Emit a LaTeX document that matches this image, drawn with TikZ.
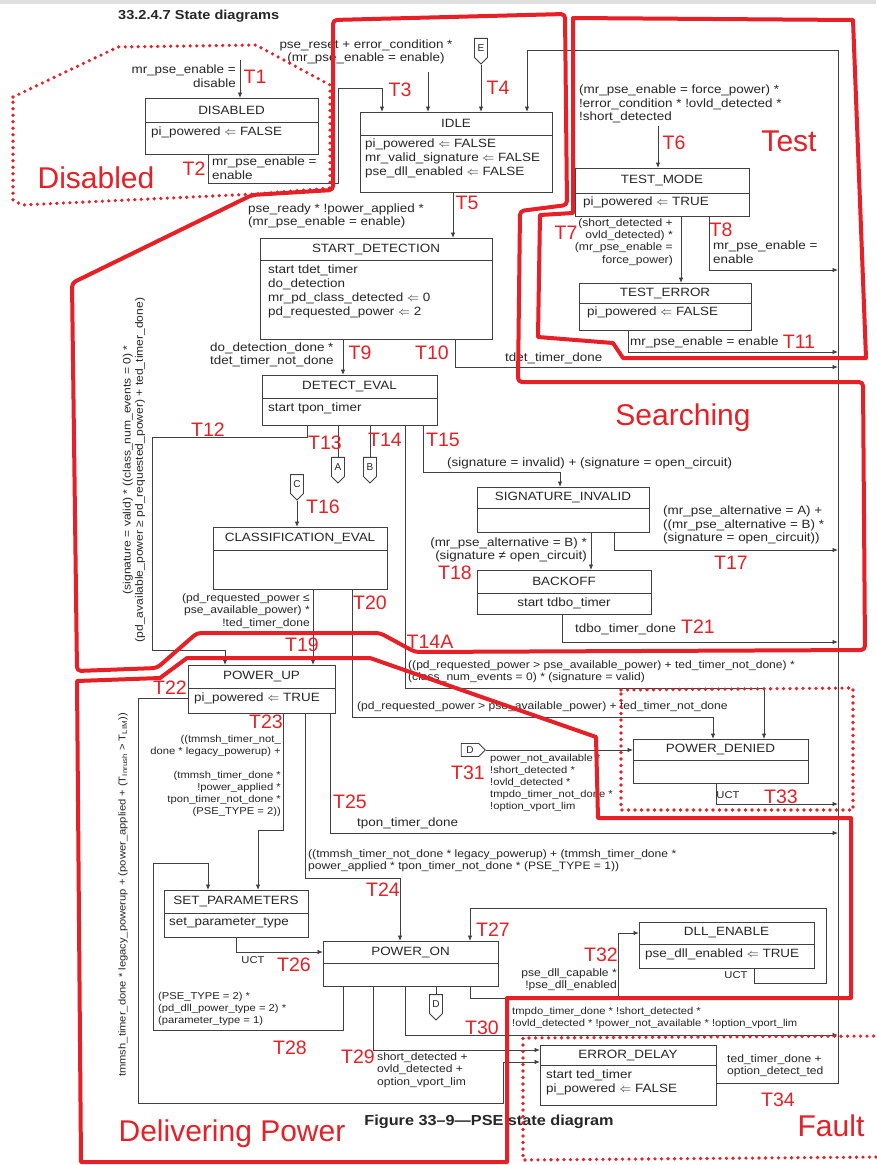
\documentclass[tikz,border=0pt]{standalone}
\usepackage{fontspec}
\usepackage{amsmath}
\usepackage{amssymb}
\usetikzlibrary{arrows, arrows.meta}
\usetikzlibrary{calc}
\usetikzlibrary{shapes.symbols}
\newfontfamily\dg{Liberation Sans}[FakeStretch=1.12]
\newfontfamily\rg{Liberation Sans}
\definecolor{ln}{gray}{0.25}
\definecolor{txt}{gray}{0.15}
\definecolor{regred}{RGB}{230,32,38}
\newcommand{\lassign}{\ensuremath{\Leftarrow}}

\begin{document}
\begin{tikzpicture}[x=1pt, y=-1pt,
    state/.style={draw=ln, line width=1pt, anchor=north west, inner sep=0pt},
    div/.style={draw=ln, line width=1pt},
    wire/.style={draw=ln, line width=0.9pt},
    tr/.style={draw=ln, line width=0.9pt, -{Latex[length=5.5pt,width=4.5pt]}},
    lbl/.style={inner sep=0pt, text=txt, font={\dg\fontsize{12}{13.5}\selectfont}},
    lbls/.style={inner sep=0pt, text=txt, font={\dg\fontsize{10.8}{12.2}\selectfont}},
    lblx/.style={inner sep=0pt, text=txt, font={\dg\fontsize{10}{12}\selectfont}},
    body/.style={inner sep=0pt, text=txt, anchor=north west, align=left, font={\dg\fontsize{12}{14}\selectfont}},
    conn/.style={draw=ln, line width=0.9pt, signal, fill=white, inner sep=1.5pt, minimum width=13pt, minimum height=24pt, text=txt, font={\rg\fontsize{10}{10}\selectfont}},
    tname/.style={inner sep=0pt, text=regred, font={\rg\fontsize{19.5}{20}\selectfont}},
    region/.style={draw=regred, line width=4pt, line join=round},
    regdot/.style={draw=regred, line width=3.6pt, line cap=round, dash pattern=on 0pt off 6.5pt},
    regname/.style={inner sep=0pt, text=regred, font={\rg\fontsize{30}{32}\selectfont}}
  ]
    \useasboundingbox (0,0) rectangle (876,1165);
    \fill[white] (0,0) rectangle (876,1165);
    \fill[black!12] (0,0) rectangle (876,4);

    \node[anchor=west, inner sep=0pt, text=txt, font={\dg\bfseries\fontsize{13}{14}\selectfont}] (title) at (118,16) {33.2.4.7 State diagrams};
    \node[inner sep=0pt, text=txt, font={\dg\bfseries\fontsize{14.5}{16}\selectfont}] (caption) at (489,1122) {Figure 33–9—PSE state diagram};

    \node[state, minimum width=173pt, minimum height=56pt] (disabled) at (145,98) {};
    \draw[div] (disabled.west |- 0,122) -- (disabled.east |- 0,122);
    \node[lbl] (disabled-h) at (231.5,110) {DISABLED};
    \node[body] (disabled-b) at (151,127) {pi\_powered \lassign{} FALSE};

    \node[state, minimum width=192pt, minimum height=80pt] (idle) at (360,112) {};
    \draw[div] (idle.west |- 0,135) -- (idle.east |- 0,135);
    \node[lbl] (idle-h) at (456,123.5) {IDLE};
    \node[body] (idle-b) at (365,139) {pi\_powered \lassign{} FALSE\\mr\_valid\_signature \lassign{} FALSE\\pse\_dll\_enabled \lassign{} FALSE};

    \node[state, minimum width=232pt, minimum height=101pt] (startdet) at (260,238) {};
    \draw[div] (startdet.west |- 0,260) -- (startdet.east |- 0,260);
    \node[lbl] (startdet-h) at (376,249) {START\_DETECTION};
    \node[body] (startdet-b) at (268,265) {start tdet\_timer\\do\_detection\\mr\_pd\_class\_detected \lassign{} 0\\pd\_requested\_power \lassign{} 2};

    \node[state, minimum width=175pt, minimum height=50pt] (detecteval) at (262,375) {};
    \draw[div] (detecteval.west |- 0,398) -- (detecteval.east |- 0,398);
    \node[lbl] (detecteval-h) at (349.5,386.5) {DETECT\_EVAL};
    \node[body] (detecteval-b) at (268,403) {start tpon\_timer};

    \node[state, minimum width=174pt, minimum height=48pt] (testmode) at (575,168) {};
    \draw[div] (testmode.west |- 0,193) -- (testmode.east |- 0,193);
    \node[lbl] (testmode-h) at (662,180.5) {TEST\_MODE};
    \node[body] (testmode-b) at (583,197) {pi\_powered \lassign{} TRUE};

    \node[state, minimum width=172pt, minimum height=47pt] (testerror) at (579,283) {};
    \draw[div] (testerror.west |- 0,303) -- (testerror.east |- 0,303);
    \node[lbl] (testerror-h) at (665,293) {TEST\_ERROR};
    \node[body] (testerror-b) at (587,307) {pi\_powered \lassign{} FALSE};

    \node[state, minimum width=172pt, minimum height=45pt] (siginv) at (477,487) {};
    \draw[div] (siginv.west |- 0,508) -- (siginv.east |- 0,508);
    \node[lbl] (siginv-h) at (563,497.5) {SIGNATURE\_INVALID};

    \node[state, minimum width=174pt, minimum height=62pt] (classeval) at (213,527) {};
    \draw[div] (classeval.west |- 0,550) -- (classeval.east |- 0,550);
    \node[lbl] (classeval-h) at (300,538.5) {CLASSIFICATION\_EVAL};

    \node[state, minimum width=174pt, minimum height=44pt] (backoff) at (477,570) {};
    \draw[div] (backoff.west |- 0,593) -- (backoff.east |- 0,593);
    \node[lbl] (backoff-h) at (564,581.5) {BACKOFF};
    \node[lbl] (backoff-b) at (564,603) {start tdbo\_timer};

    \node[state, minimum width=147pt, minimum height=48pt] (powerup) at (188,665) {};
    \draw[div] (powerup.west |- 0,688) -- (powerup.east |- 0,688);
    \node[lbl] (powerup-h) at (261.5,676.5) {POWER\_UP};
    \node[body] (powerup-b) at (194,693) {pi\_powered \lassign{} TRUE};

    \node[state, minimum width=175pt, minimum height=44pt] (powerdenied) at (633,739) {};
    \draw[div] (powerdenied.west |- 0,760) -- (powerdenied.east |- 0,760);
    \node[lbl] (powerdenied-h) at (720.5,749.5) {POWER\_DENIED};

    \node[state, minimum width=144pt, minimum height=47pt] (setparams) at (164,890) {};
    \draw[div] (setparams.west |- 0,913) -- (setparams.east |- 0,913);
    \node[lbl] (setparams-h) at (236,901.5) {SET\_PARAMETERS};
    \node[body] (setparams-b) at (169,918) {set\_parameter\_type};

    \node[state, minimum width=175pt, minimum height=45pt] (poweron) at (323,941) {};
    \draw[div] (poweron.west |- 0,963) -- (poweron.east |- 0,963);
    \node[lbl] (poweron-h) at (410.5,952) {POWER\_ON};

    \node[state, minimum width=175pt, minimum height=46pt] (dllenable) at (639,922) {};
    \draw[div] (dllenable.west |- 0,944) -- (dllenable.east |- 0,944);
    \node[lbl] (dllenable-h) at (726.5,933) {DLL\_ENABLE};
    \node[body] (dllenable-b) at (645,949) {pse\_dll\_enabled \lassign{} TRUE};

    \node[state, minimum width=176pt, minimum height=60pt] (errdelay) at (540,1045) {};
    \draw[div] (errdelay.west |- 0,1065) -- (errdelay.east |- 0,1065);
    \node[lbl] (errdelay-h) at (628,1055) {ERROR\_DELAY};
    \node[body] (errdelay-b) at (546,1070) {start ted\_timer\\pi\_powered \lassign{} FALSE};

    \node[conn, signal to=south] (conE) at (481,48) {E};
    \node[conn, signal to=south] (conA) at (338,467) {A};
    \node[conn, signal to=south] (conB) at (370,467) {B};
    \node[conn, signal to=south] (conC) at (297,484) {C};
    \node[conn, signal to=south] (conD) at (436,1004) {D};
    \node[conn, signal to=east, minimum width=24pt, minimum height=13pt] (conD2) at (470,750) {D};

    \coordinate (bus) at (838,50);
    \coordinate (t1s) at (240,60);
    \coordinate (rsts) at (428,72);
    \coordinate (t6s) at (658,126);

    \draw[tr] (t1s) -- (disabled.north -| t1s);
    \draw[tr] (disabled.south -| 208,0) |- (338,183) -- (338,88) -| (idle.north -| 382,0);
    \draw[tr] (rsts) -- (idle.north -| rsts);
    \draw[tr] (conE.south) -- (idle.north -| conE.south);
    \draw[tr] (errdelay.east |- 0,1083) -| (bus) -| (idle.north -| 527,0);
    \draw[tr] (idle.south -| 453,0) -- (startdet.north -| 453,0);
    \draw[tr] (t6s) -- (testmode.north -| t6s);
    \draw[tr] (testmode.south -| 681,0) -- (testerror.north -| 681,0);
    \draw[tr] (testmode.south -| 709,0) |- (bus |- 0,270);
    \draw[tr] (testerror.south -| 628,0) |- (bus |- 0,352);
    \draw[tr] (startdet.south -| 343,0) -- (detecteval.north -| 343,0);
    \draw[tr] (startdet.south -| 455,0) |- (bus |- 0,367);
    \draw[tr] (detecteval.south -| 307,0) |- (152,437) |- (225,650) -- (powerup.north -| 225,0);
    \draw[wire] (detecteval.south -| conA) -- (conA.north);
    \draw[wire] (detecteval.south -| conB) -- (conB.north);
    \draw[tr] (conC.south) -- (classeval.north -| conC.south);
    \draw[tr] (detecteval.south -| 405,0) |- (764,688) -- (powerdenied.north -| 764,0);
    \draw[tr] (detecteval.south -| 423,0) |- (560,472) -- (siginv.north -| 560,0);
    \draw[tr] (siginv.south -| 614,0) |- (bus |- 0,550);
    \draw[tr] (siginv.south -| 591,0) -- (backoff.north -| 591,0);
    \draw[tr] (backoff.south -| 562,0) |- (bus |- 0,642);
    \draw[tr] (classeval.south -| 313,0) -- (powerup.north -| 313,0);
    \draw[tr] (classeval.south -| 352,0) |- (713,717) -- (powerdenied.north -| 713,0);
    \draw[tr] (conD2.east) -- (powerdenied.west |- conD2.east);
    \draw[tr] (powerdenied.south -| 716,0) |- (bus |- 0,804);
    \draw[tr] (powerup.west |- 0,698) -- (138,698) |- (503,1103) |- (errdelay.west |- 0,1062);
    \draw[tr] (powerup.south -| 283,0) |- (258,830) -- (setparams.north -| 258,0);
    \draw[tr] (powerup.south -| 305,0) |- (400,878) -- (poweron.north -| 400,0);
    \draw[tr] (powerup.south -| 330,0) |- (bus |- 0,833);
    \draw[tr] (setparams.south -| 236,0) |- (poweron.west |- 0,952);
    \draw[tr] (dllenable.south -| 754,0) |- (826,983) -- (826,908) -| (poweron.north -| 470,0);
    \draw[tr] (poweron.south -| 343,0) |- (153,1030) |- (208,863) -- (setparams.north -| 208,0);
    \draw[tr] (poweron.south -| 373,0) |- (errdelay.west |- 0,1050);
    \draw[tr] (poweron.south -| 405,0) |- (bus |- 0,1035);
    \draw[tr] (poweron.south -| 470,0) |- (618,998) |- (dllenable.west |- 0,933);
    \draw[wire] (poweron.south -| conD) -- (conD.north);

    \node[lbl, anchor=east, align=right] (t1-l) at (236,76) {mr\_pse\_enable =\\disable};
    \node[lbl, anchor=west, align=left] (t2-l) at (212,168) {mr\_pse\_enable =\\enable};
    \node[lbl, align=center] (rst-l) at (366,52) {pse\_reset + error\_condition *\\(mr\_pse\_enable = enable)};
    \node[lbl, anchor=west, align=left] (t5-l) at (248,216) {pse\_ready * !power\_applied *\\(mr\_pse\_enable = enable)};
    \node[lbl, anchor=west, align=left] (t6-l) at (579,104) {(mr\_pse\_enable = force\_power) *\\!error\_condition * !ovld\_detected *\\!short\_detected};
    \node[lbls, anchor=east, align=right] (t7-l) at (673,242) {(short\_detected +\\ovld\_detected) *\\(mr\_pse\_enable =\\force\_power)};
    \node[lbl, anchor=west, align=left] (t8-l) at (713,252) {mr\_pse\_enable =\\enable};
    \node[lbl, anchor=west] (t11-l) at (630,342) {mr\_pse\_enable = enable};
    \node[lbl, anchor=west, align=left] (t9-l) at (210,355) {do\_detection\_done *\\tdet\_timer\_not\_done};
    \node[lbl, anchor=west] (t10-l) at (505,358) {tdet\_timer\_done};
    \node[lbls, rotate=90, align=center] (t12-l) at (134,470) {(signature = valid) * ((class\_num\_events = 0) *\\(pd\_available\_power ≥ pd\_requested\_power) + ted\_timer\_done)};
    \node[lbls, anchor=west, align=left] (t14a-l) at (408,672) {((pd\_requested\_power > pse\_available\_power) + ted\_timer\_not\_done) *\\(class\_num\_events = 0) * (signature = valid)};
    \node[lbl, anchor=west] (t15-l) at (447,463) {(signature = invalid) + (signature = open\_circuit)};
    \node[lbl, anchor=west, align=left] (t17-l) at (663,525) {(mr\_pse\_alternative = A) +\\((mr\_pse\_alternative = B) *\\(signature = open\_circuit))};
    \node[lbl, anchor=east, align=right] (t18-l) at (587,550) {(mr\_pse\_alternative = B) *\\(signature ≠ open\_circuit)};
    \node[lbls, anchor=east, align=right] (t19-l) at (310,611) {(pd\_requested\_power ≤\\pse\_available\_power) *\\!ted\_timer\_done};
    \node[lbls, anchor=west] (t20-l) at (357,707) {(pd\_requested\_power > pse\_available\_power) + ted\_timer\_not\_done};
    \node[lbl, anchor=west] (t21-l) at (575,629) {tdbo\_timer\_done};
    \node[lblx, rotate=90] (t22-l) at (123,895) {tmmsh\_timer\_done * legacy\_powerup + (power\_applied + (T\textsubscript{Inrush} > T\textsubscript{LIM}))};
    \node[lblx, anchor=east, align=right] (t23-l) at (281,776) {((tmmsh\_timer\_not\_\\done * legacy\_powerup) +\\\\(tmmsh\_timer\_done *\\!power\_applied *\\tpon\_timer\_not\_done *\\(PSE\_TYPE = 2))};
    \node[lbls, anchor=west, align=left] (t24-l) at (308,861) {((tmmsh\_timer\_not\_done * legacy\_powerup) + (tmmsh\_timer\_done *\\power\_applied * tpon\_timer\_not\_done * (PSE\_TYPE = 1))};
    \node[lbl, anchor=west] (t25-l) at (357,823) {tpon\_timer\_done};
    \node[lblx] (t26-l) at (253,960) {UCT};
    \node[lblx] (t27-l) at (736,975) {UCT};
    \node[lblx, anchor=west, align=left] (t28-l) at (158,1009) {(PSE\_TYPE = 2) *\\(pd\_dll\_power\_type = 2) *\\(parameter\_type = 1)};
    \node[lbls, anchor=west, align=left] (t29-l) at (377,1070) {short\_detected +\\ovld\_detected +\\option\_vport\_lim};
    \node[lblx, anchor=west, align=left] (t30-l) at (512,1018) {tmpdo\_timer\_done * !short\_detected *\\!ovld\_detected * !power\_not\_available * !option\_vport\_lim};
    \node[lblx, anchor=west, align=left] (t31-l) at (490,783) {power\_not\_available *\\!short\_detected *\\!ovld\_detected *\\tmpdo\_timer\_not\_done *\\!option\_vport\_lim};
    \node[lbls, anchor=east, align=right] (t32-l) at (617,980) {pse\_dll\_capable *\\!pse\_dll\_enabled};
    \node[lblx] (t33-l) at (728,795) {UCT};
    \node[lbls, anchor=west, align=left] (t34-l) at (727,1066) {ted\_timer\_done +\\option\_detect\_ted};

    \draw[regdot] (13,97) -- (118,47) -- (256,45) -- (330,85) -- (330,188) -- (255,194) -- (22,205) -- (13,200) -- cycle;
    \draw[region, rounded corners=4pt] (333,190) -- (333,20) -- (565,14) -- (567,205) -- (520,211) -- (518,382) -- (863,382) -- (865,650) -- (415,652) -- (380,633) -- (197,633) -- (157,668) -- (77,671) -- (72,283) -- (252,195) -- cycle;
    \draw[region] (573,18) -- (853,20) -- (866,358) -- (623,358) -- (613,343) -- (538,337) -- (540,215) -- (573,213) -- cycle;
    \draw[region] (77,681) -- (160,678) -- (187,658) -- (370,658) -- (596,737) -- (598,818) -- (851,818) -- (851,998) -- (507,998) -- (507,1162) -- (81,1162) -- cycle;
    \draw[regdot] (621,690) -- (853,688) -- (853,810) -- (621,810) -- cycle;
    \draw[regdot] (880,1036) -- (523,1038) -- (523,1160) -- (880,1157);

    \node[regname] (disabled-r) at (96,178) {Disabled};
    \node[regname] (test-r) at (789,141) {Test};
    \node[regname] (search-r) at (683,418) {Searching};
    \node[regname] (deliver-r) at (232,1134) {Delivering Power};
    \node[regname] (fault-r) at (831,1126) {Fault};

    \node[tname] (t1) at (255,77) {T1};
    \node[tname] (t2) at (194,169) {T2};
    \node[tname] (t3) at (400,90) {T3};
    \node[tname] (t4) at (498,88) {T4};
    \node[tname] (t5) at (467,203) {T5};
    \node[tname] (t6) at (674,143) {T6};
    \node[tname] (t7) at (566,233) {T7};
    \node[tname] (t8) at (721,230) {T8};
    \node[tname] (t9) at (360,353) {T9};
    \node[tname] (t10) at (432,353) {T10};
    \node[tname] (t11) at (799,342) {T11};
    \node[tname] (t12) at (208,430) {T12};
    \node[tname] (t13) at (325,443) {T13};
    \node[tname] (t14) at (385,440) {T14};
    \node[tname] (t15) at (443,440) {T15};
    \node[tname] (t16) at (323,507) {T16};
    \node[tname] (t17) at (731,563) {T17};
    \node[tname] (t18) at (455,573) {T18};
    \node[tname] (t19) at (302,645) {T19};
    \node[tname] (t20) at (370,603) {T20};
    \node[tname] (t21) at (698,627) {T21};
    \node[tname] (t14a) at (430,642) {T14A};
    \node[tname] (t22) at (170,688) {T22};
    \node[tname] (t23) at (266,722) {T23};
    \node[tname] (t24) at (383,890) {T24};
    \node[tname] (t25) at (350,802) {T25};
    \node[tname] (t26) at (294,965) {T26};
    \node[tname] (t27) at (493,930) {T27};
    \node[tname] (t28) at (290,1048) {T28};
    \node[tname] (t29) at (358,1057) {T29};
    \node[tname] (t30) at (482,1028) {T30};
    \node[tname] (t31) at (468,773) {T31};
    \node[tname] (t32) at (601,955) {T32};
    \node[tname] (t33) at (781,797) {T33};
    \node[tname] (t34) at (778,1100) {T34};
  \end{tikzpicture}
\end{document}
